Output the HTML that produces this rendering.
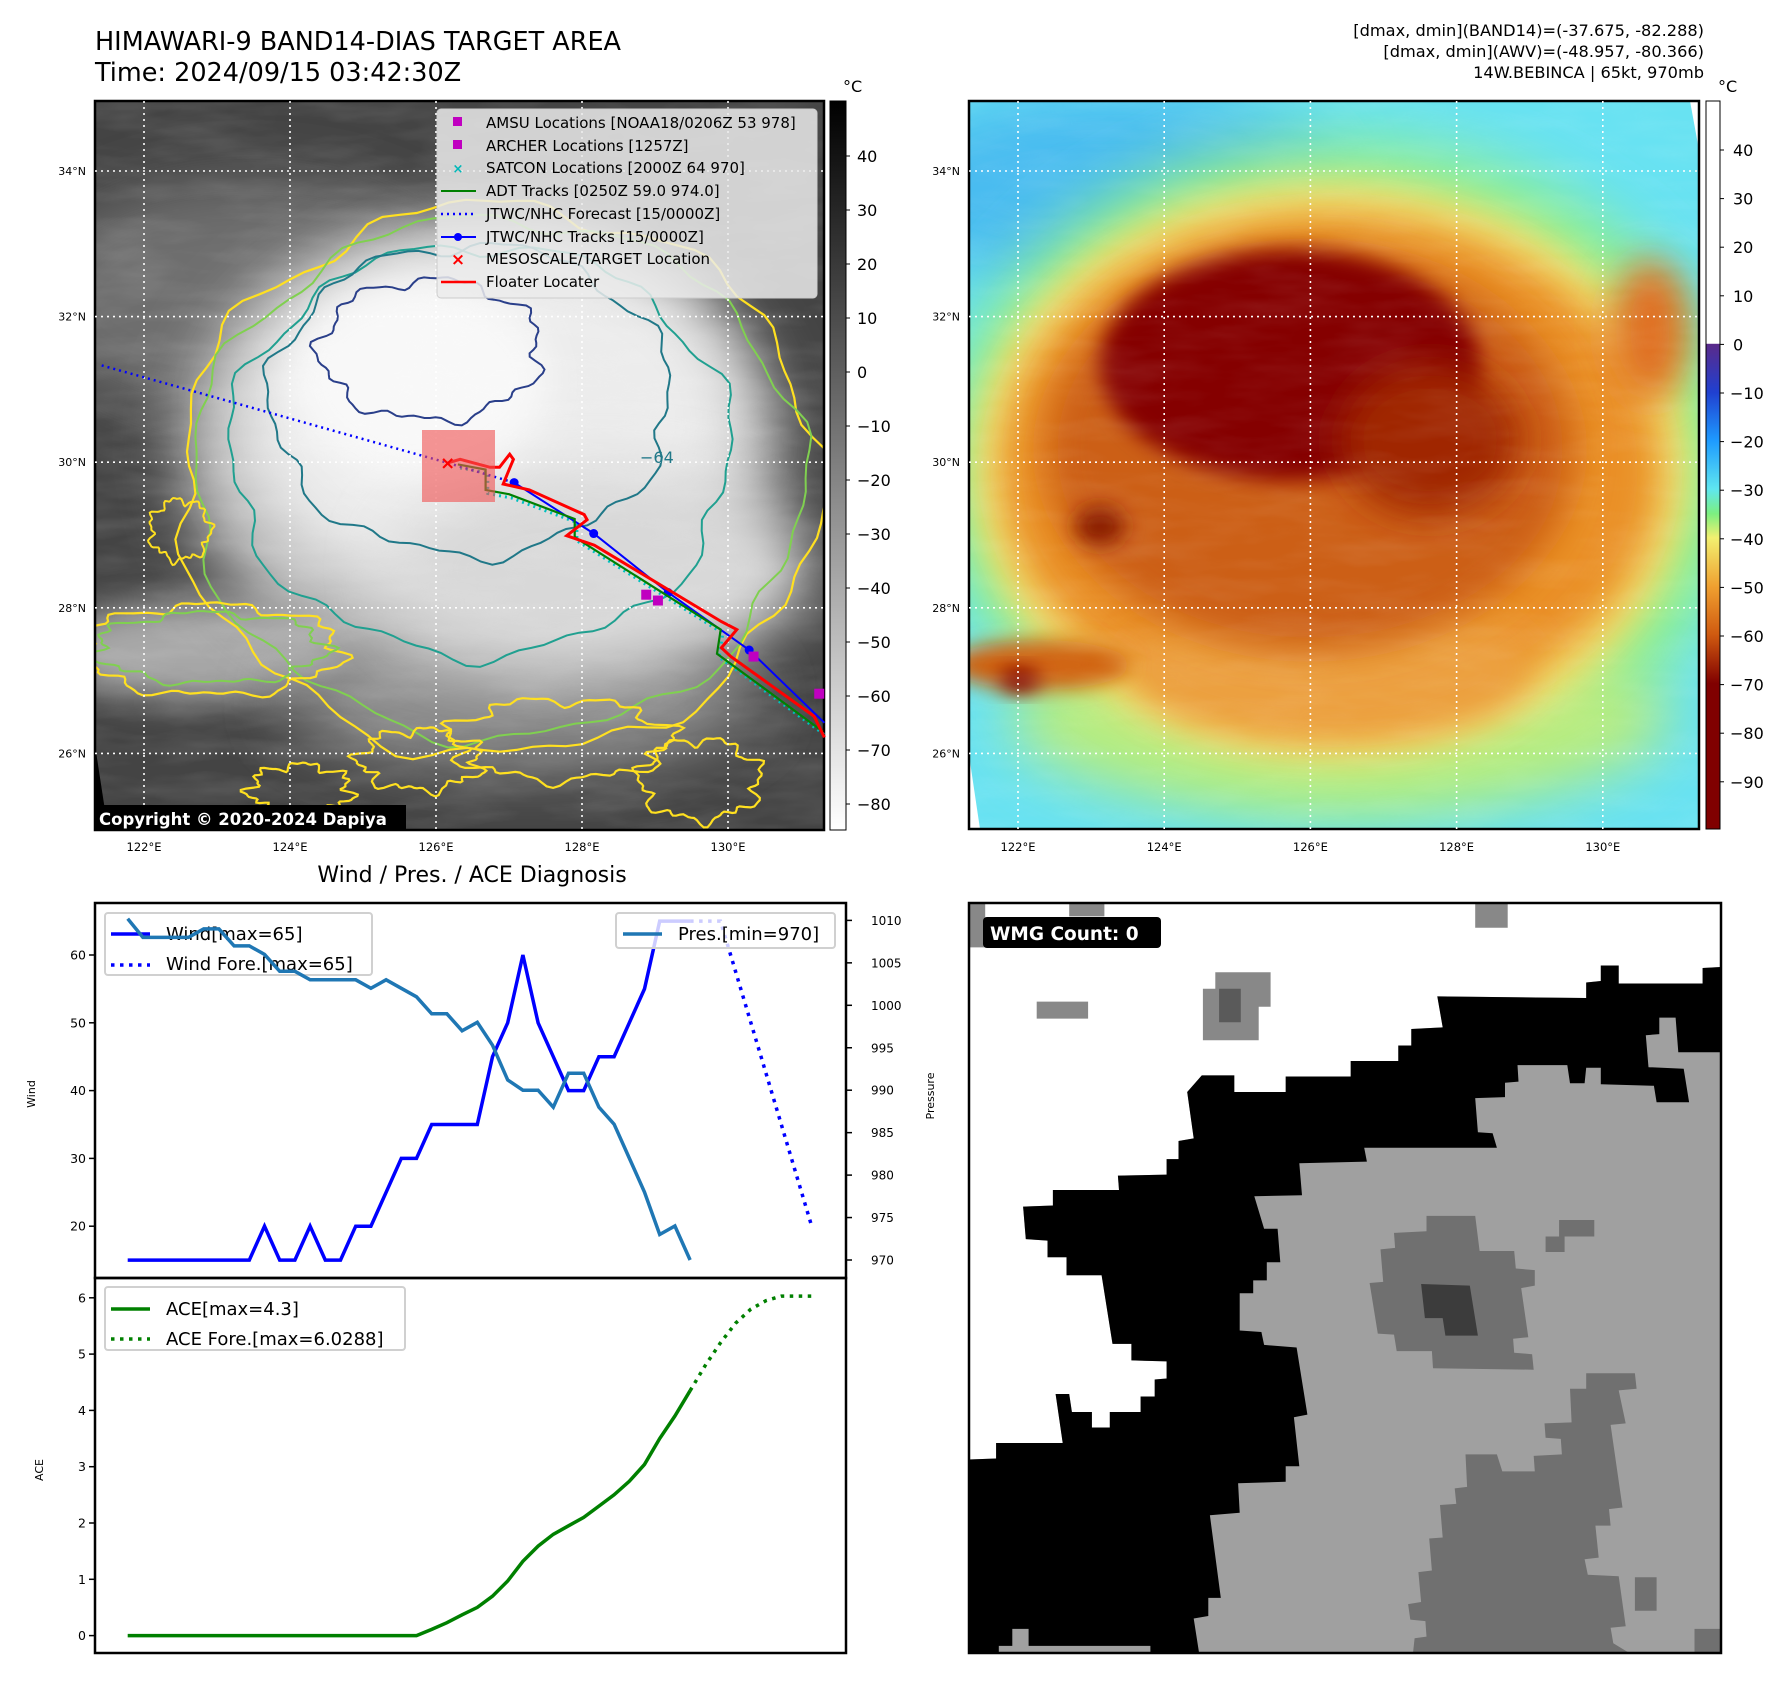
<!DOCTYPE html>
<html><head><meta charset="utf-8"><style>
html,body{margin:0;padding:0;background:#fff;}
body{width:1788px;height:1690px;position:relative;overflow:hidden;font-family:"DejaVu Sans","Liberation Sans",sans-serif;}
svg{position:absolute;left:0;top:0;}
</style></head><body>
<svg id="root" width="1788" height="1690" viewBox="0 0 1788 1690" xmlns="http://www.w3.org/2000/svg" font-family="DejaVu Sans, Liberation Sans, sans-serif">
<defs>
<filter id="b30" x="-50%" y="-50%" width="200%" height="200%"><feGaussianBlur stdDeviation="30"/></filter>
<filter id="b18" x="-50%" y="-50%" width="200%" height="200%"><feGaussianBlur stdDeviation="18"/></filter>
<filter id="b10" x="-50%" y="-50%" width="200%" height="200%"><feGaussianBlur stdDeviation="10"/></filter>
<filter id="tex" x="0" y="0" width="100%" height="100%"><feTurbulence type="fractalNoise" baseFrequency="0.012 0.05" numOctaves="3" seed="4"/><feColorMatrix type="matrix" values="0 0 0 0 1  0 0 0 0 1  0 0 0 0 1  0 0 0 0.55 -0.2"/></filter>
<clipPath id="clipL"><rect x="95" y="101" width="729" height="729"/></clipPath>
<clipPath id="clipR"><rect x="969" y="101" width="730" height="728"/></clipPath>
<clipPath id="clipW"><rect x="969" y="903" width="752" height="750"/></clipPath>
<linearGradient id="cbL" x1="0" y1="0" x2="0" y2="1"><stop offset="0" stop-color="#000"/><stop offset="1" stop-color="#fff"/></linearGradient>
<linearGradient id="cbR" x1="0" y1="0" x2="0" y2="1">
<stop offset="0" stop-color="#fff"/><stop offset="0.333" stop-color="#fff"/><stop offset="0.334" stop-color="#5a2a8a"/>
<stop offset="0.40" stop-color="#2040d0"/><stop offset="0.467" stop-color="#1e9bff"/><stop offset="0.533" stop-color="#5fe6f0"/>
<stop offset="0.567" stop-color="#7cf080"/><stop offset="0.60" stop-color="#f2f070"/><stop offset="0.667" stop-color="#f0a030"/>
<stop offset="0.733" stop-color="#d05a10"/><stop offset="0.80" stop-color="#800000"/><stop offset="1" stop-color="#800000"/></linearGradient>
</defs>

<!-- Titles -->
<text x="95" y="50" font-size="25.5" fill="#000">HIMAWARI-9 BAND14-DIAS TARGET AREA</text>
<text x="95" y="81" font-size="25.5" fill="#000">Time: 2024/09/15 03:42:30Z</text>
<g font-size="16.2" text-anchor="end" fill="#000">
<text x="1704" y="36">[dmax, dmin](BAND14)=(-37.675, -82.288)</text>
<text x="1704" y="57">[dmax, dmin](AWV)=(-48.957, -80.366)</text>
<text x="1704" y="78">14W.BEBINCA | 65kt, 970mb</text>
</g>

<!-- LEFT MAP -->
<g clip-path="url(#clipL)">
<rect x="95" y="101" width="729" height="729" fill="#444"/>
<ellipse cx="250" cy="300" rx="220" ry="120" fill="#6e6e6e" filter="url(#b30)"/>
<ellipse cx="200" cy="650" rx="150" ry="50" fill="#a8a8a8" filter="url(#b18)"/>
<ellipse cx="520" cy="700" rx="240" ry="70" fill="#8a8a8a" filter="url(#b30)"/>
<ellipse cx="480" cy="450" rx="300" ry="230" fill="#bdbdbd" filter="url(#b30)"/>
<ellipse cx="490" cy="420" rx="250" ry="180" fill="#ececec" filter="url(#b30)"/>
<ellipse cx="600" cy="570" rx="210" ry="100" fill="#d8d8d8" filter="url(#b30)"/>
<ellipse cx="420" cy="380" rx="130" ry="100" fill="#f8f8f8" filter="url(#b18)"/>
<rect x="95" y="101" width="729" height="729" filter="url(#tex)" opacity="0.35"/>
<polygon points="95,745 108,830 95,830" fill="#000"/>
<g id="contours" fill="none" stroke-width="2"></g>
</g>
<rect x="95" y="101" width="729" height="729" fill="none" stroke="#000" stroke-width="2.5"/>
<g id="gridL"></g>
<g id="tracks"></g>

<!-- left map legend -->
<g>
<rect x="437" y="109" width="380" height="189" rx="4" fill="rgba(235,235,235,0.85)" stroke="#ccc"/>
<g font-size="15" fill="#000">
<rect x="453" y="117" width="9" height="9" fill="#c000c0"/><text x="486" y="128">AMSU Locations [NOAA18/0206Z 53 978]</text>
<rect x="453" y="140" width="9" height="9" fill="#c000c0"/><text x="486" y="151">ARCHER Locations [1257Z]</text>
<text x="458" y="173" font-size="13" fill="#00b8b8" text-anchor="middle" font-weight="bold">×</text><text x="486" y="173">SATCON Locations [2000Z 64 970]</text>
<line x1="441" y1="191" x2="476" y2="191" stroke="#008000" stroke-width="2"/><text x="486" y="196">ADT Tracks [0250Z 59.0 974.0]</text>
<line x1="441" y1="214" x2="476" y2="214" stroke="#0000ff" stroke-width="2.5" stroke-dasharray="2,4"/><text x="486" y="219">JTWC/NHC Forecast [15/0000Z]</text>
<line x1="441" y1="237" x2="476" y2="237" stroke="#0000ff" stroke-width="2"/><circle cx="458" cy="237" r="4" fill="#0000ff"/><text x="486" y="242">JTWC/NHC Tracks [15/0000Z]</text>
<text x="458" y="265" font-size="17" fill="#ff0000" text-anchor="middle" font-weight="bold">×</text><text x="486" y="264">MESOSCALE/TARGET Location</text>
<line x1="441" y1="282" x2="476" y2="282" stroke="#ff0000" stroke-width="2.5"/><text x="486" y="287">Floater Locater</text>
</g></g>
<g>
<rect x="94" y="805" width="312" height="26" fill="#000"/>
<text x="99" y="825" font-size="16.5" font-weight="bold" fill="#fff">Copyright © 2020-2024 Dapiya</text>
</g>
<!-- left colorbar -->
<rect x="830" y="101" width="16" height="729" fill="url(#cbL)" stroke="#000" stroke-width="1"/>
<text x="843" y="92" font-size="16" fill="#000">°C</text>
<g id="cbLt" font-size="16" fill="#000"></g>

<!-- RIGHT MAP -->
<g clip-path="url(#clipR)">
<rect x="969" y="101" width="730" height="728" fill="#68e2f2"/>
<ellipse cx="1110" cy="190" rx="230" ry="100" fill="#48bcf0" filter="url(#b30)"/>
<ellipse cx="1340" cy="470" rx="400" ry="330" fill="#92f08a" filter="url(#b30)"/>
<ellipse cx="1340" cy="720" rx="330" ry="90" fill="#b8ec80" filter="url(#b30)"/>
<ellipse cx="1330" cy="470" rx="360" ry="290" fill="#f2e070" filter="url(#b18)"/>
<ellipse cx="1330" cy="470" rx="330" ry="255" fill="#ea9028" filter="url(#b18)"/>
<ellipse cx="1330" cy="670" rx="200" ry="70" fill="#eca040" filter="url(#b18)"/>
<ellipse cx="1310" cy="450" rx="265" ry="200" fill="#cc5e12" filter="url(#b18)"/>
<ellipse cx="1290" cy="365" rx="190" ry="115" fill="#850000" filter="url(#b10)"/>
<ellipse cx="1430" cy="440" rx="90" ry="75" fill="#a02800" filter="url(#b18)"/>
<ellipse cx="1650" cy="330" rx="40" ry="70" fill="#e07020" filter="url(#b18)"/>
<ellipse cx="1040" cy="665" rx="90" ry="25" fill="#d06010" filter="url(#b10)"/>
<ellipse cx="1020" cy="680" rx="20" ry="12" fill="#800000" filter="url(#b10)"/>
<ellipse cx="1100" cy="526" rx="25" ry="20" fill="#8a1a00" filter="url(#b10)"/>
<rect x="969" y="101" width="730" height="728" filter="url(#tex)" opacity="0.25"/>
<polygon points="969,755 980,829 969,829" fill="#fff"/>
<polygon points="1690,101 1699,101 1699,150" fill="#fff"/>
</g>
<rect x="969" y="101" width="730" height="728" fill="none" stroke="#000" stroke-width="2.5"/>
<g id="gridR"></g>
<rect x="1706" y="101" width="14" height="728" fill="url(#cbR)" stroke="#000" stroke-width="1"/>
<text x="1718" y="92" font-size="16" fill="#000">°C</text>
<g id="cbRt" font-size="16" fill="#000"></g>

<!-- CHARTS -->
<text x="472" y="882" font-size="22" text-anchor="middle" fill="#000">Wind / Pres. / ACE Diagnosis</text>
<g id="chart"></g>

<!-- WMG panel -->
<g clip-path="url(#clipW)" id="wmg"></g>
<rect x="969" y="903" width="752" height="750" fill="none" stroke="#000" stroke-width="2.5"/>
<g>
<rect x="983" y="917" width="178" height="31" rx="4" fill="#000"/>
<text x="990" y="940" font-size="18.5" font-weight="bold" fill="#fff">WMG Count: 0</text>
</g>
</svg>
<script>
const NS='http://www.w3.org/2000/svg';
function mk(tag,attrs,parent){const e=document.createElementNS(NS,tag);for(const k in attrs)e.setAttribute(k,attrs[k]);parent.appendChild(e);return e;}

// ---------- Chart data ----------
const windIdx=[0,1,2,3,4,5,6,7,8,9,10,11,12,13,14,15,16,17,18,19,20,21,22,23,24,25,26,27,28,29,30,31,32,33,34,35,36,37];
const windVals=[15,15,15,15,15,15,15,15,15,20,15,15,20,15,15,20,20,25,30,30,35,35,35,35,45,50,60,50,45,40,40,45,45,50,55,65,65,65];
const presVals=[1010.2,1008,1008,1008,1008,1009,1009,1007,1007,1006,1004,1004,1003,1003,1003,1003,1002,1003,1002,1001,999,999,997,998,995.3,991.2,990,990,988,992,992,988,986,982,978,973,974,970];
const aceVals=[0,0,0,0,0,0,0,0,0,0,0,0,0,0,0,0,0,0,0,0,0.11,0.23,0.37,0.5,0.7,0.97,1.32,1.59,1.8,1.95,2.1,2.3,2.5,2.74,3.04,3.5,3.9,4.35];
const windForeIdx=[37,39,45];
const windForeVals=[65,65,20];
const aceForeIdx=[37,38,39,40,41,42,43,44,45];
const aceForeVals=[4.35,4.8,5.2,5.55,5.8,5.95,6.03,6.03,6.03];
const windTicks=[20,30,40,50,60];
const presTicks=[970,975,980,985,990,995,1000,1005,1010];
const aceTicks=[0,1,2,3,4,5,6];

const xOf=i=>127.7+i*15.2;
const windY=v=>955+(60-v)*6.78;
const presY=p=>1260-(p-970)*8.49;
const aceY=a=>1635.6-a*56.3;

const chart=document.getElementById('chart');
function pts(idx,vals,f){return idx.map((i,k)=>xOf(i).toFixed(1)+','+f(vals[k]).toFixed(1)).join(' ');}

let g=mk('g',{},chart);


mk('rect',{x:95,y:903,width:751,height:375,fill:'#fff'},g);
let wl=mk('polyline',{points:pts(windIdx,windVals,windY),fill:'none',stroke:'#0000ff','stroke-width':3.5,'stroke-linejoin':'miter'},g);


let wf=mk('polyline',{points:pts(windForeIdx,windForeVals,windY),fill:'none',stroke:'#0000ff','stroke-width':3.5,'stroke-dasharray':'3.5,5.5'},g);


windTicks.forEach(t=>{const y=windY(t);mk('line',{x1:89,y1:y,x2:95,y2:y,stroke:'#000','stroke-width':1.5},g);
 const tx=mk('text',{x:86,y:y+4.5,'font-size':12.5,'text-anchor':'end',fill:'#000'},g);tx.textContent=t;
 
 });
let lg=mk('g',{},g);


mk('rect',{x:105,y:913,width:267,height:62,rx:3,fill:'rgba(255,255,255,0.8)',stroke:'#d0d0d0','stroke-width':2},lg);
mk('line',{x1:111,y1:934,x2:150,y2:934,stroke:'#0000ff','stroke-width':3.5},lg);
mk('line',{x1:111,y1:965,x2:150,y2:965,stroke:'#0000ff','stroke-width':3.5,'stroke-dasharray':'3.5,5.5'},lg);
let t1=mk('text',{x:166,y:940,'font-size':18,fill:'#000'},lg);t1.textContent='Wind[max=65]';
let t2=mk('text',{x:166,y:970,'font-size':18,fill:'#000'},lg);t2.textContent='Wind Fore.[max=65]';
let pl=mk('polyline',{points:pts(windIdx,presVals,presY),fill:'none',stroke:'#1f77b4','stroke-width':3.5},g);


presTicks.forEach(t=>{const y=presY(t);mk('line',{x1:846,y1:y,x2:852,y2:y,stroke:'#000','stroke-width':1.5},g);
 const tx=mk('text',{x:871,y:y+4.5,'font-size':12,fill:'#000'},g);tx.textContent=t;
 
 });
let pg=mk('g',{},g);


mk('rect',{x:616,y:913,width:219,height:35,rx:3,fill:'rgba(255,255,255,0.8)',stroke:'#d0d0d0','stroke-width':2},pg);
mk('line',{x1:623,y1:934,x2:662,y2:934,stroke:'#1f77b4','stroke-width':3.5},pg);
let t3=mk('text',{x:678,y:940,'font-size':18,fill:'#000'},pg);t3.textContent='Pres.[min=970]';
mk('rect',{x:95,y:903,width:751,height:375,fill:'none',stroke:'#000','stroke-width':2.5},g);
let yl=mk('text',{x:0,y:0,'font-size':11,fill:'#000','text-anchor':'middle',transform:'translate(35,1094) rotate(-90)'},g);yl.textContent='Wind';


let pyl=mk('text',{x:0,y:0,'font-size':11,fill:'#000','text-anchor':'middle',transform:'translate(934,1096) rotate(-90)'},g);pyl.textContent='Pressure';



let a=mk('g',{},chart);


let al=mk('polyline',{points:pts(windIdx,aceVals,aceY),fill:'none',stroke:'#008000','stroke-width':3.5},a);


let af=mk('polyline',{points:pts(aceForeIdx,aceForeVals,aceY),fill:'none',stroke:'#008000','stroke-width':3.5,'stroke-dasharray':'3.5,5.5'},a);


aceTicks.forEach(t=>{const y=aceY(t);mk('line',{x1:89,y1:y,x2:95,y2:y,stroke:'#000','stroke-width':1.5},a);
 const tx=mk('text',{x:86,y:y+4.5,'font-size':12.5,'text-anchor':'end',fill:'#000'},a);tx.textContent=t;
 
 });
let ag=mk('g',{},a);


mk('rect',{x:105,y:1287,width:300,height:63,rx:3,fill:'rgba(255,255,255,0.8)',stroke:'#d0d0d0','stroke-width':2},ag);
mk('line',{x1:111,y1:1309,x2:150,y2:1309,stroke:'#008000','stroke-width':3.5},ag);
mk('line',{x1:111,y1:1339,x2:150,y2:1339,stroke:'#008000','stroke-width':3.5,'stroke-dasharray':'3.5,5.5'},ag);
let t4=mk('text',{x:166,y:1315,'font-size':18,fill:'#000'},ag);t4.textContent='ACE[max=4.3]';
let t5=mk('text',{x:166,y:1345,'font-size':18,fill:'#000'},ag);t5.textContent='ACE Fore.[max=6.0288]';
mk('rect',{x:95,y:1278,width:751,height:375,fill:'none',stroke:'#000','stroke-width':2.5},a);
let ayl=mk('text',{x:0,y:0,'font-size':11,fill:'#000','text-anchor':'middle',transform:'translate(43,1470) rotate(-90)'},a);ayl.textContent='ACE';



// ---------- Map grids ----------
const lonTicks=[122,124,126,128,130];
const latTicks=[26,28,30,32,34];
function mapGrid(gid,x0,w,h){
 const gg=document.getElementById(gid);
 const lx=lon=>x0+49+(lon-122)*73*(w/729);
 const ly=lat=>171+(34-lat)*72.8;
 lonTicks.forEach(l=>{const x=lx(l);mk('line',{x1:x,y1:101,x2:x,y2:101+h,stroke:'#fff','stroke-width':1.6,'stroke-dasharray':'2,4'},gg);
  const t=mk('text',{x:x,y:851,'font-size':11.5,'text-anchor':'middle',fill:'#000'},gg);t.textContent=l+'°E';
  
  });
 latTicks.forEach(l=>{const y=ly(l);mk('line',{x1:x0,y1:y,x2:x0+w,y2:y,stroke:'#fff','stroke-width':1.6,'stroke-dasharray':'2,4'},gg);
  const t=mk('text',{x:x0-9,y:y+4,'font-size':11,'text-anchor':'end',fill:'#000'},gg);t.textContent=l+'°N';
  
  });
}
mapGrid('gridL',95,729,729);
mapGrid('gridR',969,730,728);

const cbLTicks=[40,30,20,10,0,-10,-20,-30,-40,-50,-60,-70,-80];
const cbRTicks=[40,30,20,10,0,-10,-20,-30,-40,-50,-60,-70,-80,-90];
const cbLy=v=>156+(40-v)*5.4;
const cbRy=v=>150+(40-v)*4.86;
cbLTicks.forEach(v=>{const y=cbLy(v);const c=document.getElementById('cbLt');mk('line',{x1:846,y1:y,x2:850,y2:y,stroke:'#000'},c);
 const t=mk('text',{x:857,y:y+6},c);t.textContent=(v<0?'\u2212'+(-v):v);});
cbRTicks.forEach(v=>{const y=cbRy(v);const c=document.getElementById('cbRt');mk('line',{x1:1720,y1:y,x2:1724,y2:y,stroke:'#000'},c);
 const t=mk('text',{x:v<0?1730:1733,y:y+6},c);t.textContent=(v<0?'\u2212'+(-v):v);});

// ---------- Contours (approximate shapes) ----------
const cont=document.getElementById('contours');
function blob(cx,cy,rx,ry,amp,seed,color,sw){
 let d='';for(let k=0;k<=120;k++){const th=k/120*Math.PI*2;
  const r=1+amp*(Math.sin(th*7+seed)*0.5+Math.sin(th*13+seed*2)*0.3+Math.sin(th*23+seed*3)*0.2);
  const x=cx+rx*r*Math.cos(th),y=cy+ry*r*Math.sin(th);d+=(k?'L':'M')+x.toFixed(1)+','+y.toFixed(1);}
 mk('path',{d:d+'Z',stroke:color,'stroke-width':sw||2,fill:'none'},cont);
}
blob(500,480,320,275,0.06,1,'#ffe020',2.2);
blob(498,478,305,260,0.05,2,'#80d050',2);
blob(480,450,250,205,0.06,3,'#20a090',2);
blob(470,400,200,155,0.07,4,'#207888',2);
blob(430,350,110,70,0.12,5,'#2a3f8a',2);
blob(210,650,130,45,0.15,6,'#ffe020',2.2);
blob(210,648,115,35,0.15,7,'#80d050',2);
blob(180,530,30,30,0.2,8,'#ffe020',2);
blob(560,740,110,40,0.2,9,'#ffe020',2.2);
blob(700,780,60,40,0.2,10,'#ffe020',2.2);
blob(420,760,60,30,0.25,11,'#ffe020',2.2);
blob(300,790,50,25,0.25,12,'#ffe020',2.2);

// ---------- Tracks ----------
const trk=document.getElementById('tracks');
const pxL=lon=>144+(lon-122)*73;
const pyL=lat=>171+(34-lat)*72.8;
const fcLon=[121.42,126.16,127.07];
const fcLat=[31.33,29.99,29.72];
const jtLon=[127.07,128.16,129.18,130.29,131.32];
const jtLat=[29.72,29.02,28.21,27.42,26.42];
const flLon=[126.16,126.33,126.74,126.87,127.01,127.06,126.92,127.28,128.03,128.07,127.79,128.17,129.91,130.12,129.91,130.04,131.18,131.32];
const flLat=[29.99,30.04,29.93,29.93,30.11,30.04,29.70,29.62,29.28,29.21,28.99,28.86,27.81,27.70,27.45,27.33,26.51,26.22];
const adLon=[126.3,126.68,126.68,127.0,127.9,127.9,129.9,129.85,131.3];
const adLat=[29.97,29.9,29.62,29.56,29.22,28.97,27.70,27.37,26.3];
const sqLon=[128.88,129.04,130.35,131.25];
const sqLat=[28.18,28.10,27.33,26.82];
const P=(lo,la)=>lo.map((v,k)=>pxL(v).toFixed(1)+','+pyL(la[k]).toFixed(1)).join(' ');
mk('polyline',{points:P(adLon.map(v=>v+0.03),adLat.map(v=>v-0.05)),fill:'none',stroke:'#00c0c0','stroke-width':3,'stroke-dasharray':'2,4'},trk);
mk('polyline',{points:P(fcLon,fcLat),fill:'none',stroke:'#0000ff','stroke-width':2.5,'stroke-dasharray':'2,4'},trk);
mk('polyline',{points:P(jtLon,jtLat),fill:'none',stroke:'#0000ff','stroke-width':2},trk);
jtLon.slice(0,4).forEach((v,k)=>mk('circle',{cx:pxL(v),cy:pyL(jtLat[k]),r:4.5,fill:'#0000ff'},trk));
mk('polyline',{points:P(adLon,adLat),fill:'none',stroke:'#008000','stroke-width':2.2},trk);
mk('polyline',{points:P(flLon,flLat),fill:'none',stroke:'#ff0000','stroke-width':3},trk);
sqLon.forEach((v,k)=>mk('rect',{x:pxL(v)-5,y:pyL(sqLat[k])-5,width:10,height:10,fill:'#c000c0'},trk));
mk('rect',{x:422,y:430,width:73,height:72,fill:'rgba(240,80,80,0.6)'},trk);
let rx=mk('text',{x:pxL(126.16),y:pyL(29.99)+6,'font-size':18,'font-weight':'bold','text-anchor':'middle',fill:'#ff0000'},trk);rx.textContent='×';
let lb=mk('text',{x:640,y:463,'font-size':16,fill:'#207888'},trk);lb.textContent='−64';

// ---------- WMG panel ----------
const W=document.getElementById('wmg');
const wx=c=>969+(c-55)/1.847, wy=c=>903+(c-44)/1.937;
function poly(arr,fill){let s='';for(let k=0;k<arr.length;k+=2)s+=wx(arr[k]).toFixed(1)+','+wy(arr[k+1]).toFixed(1)+' ';mk('polygon',{points:s,fill:fill},W);}
function box(x1,y1,x2,y2,fill){poly([x1,y1,x2,y1,x2,y2,x1,y2],fill);}
mk('rect',{x:969,y:903,width:752,height:750,fill:'#a0a0a0'},W);
const topB=[1444,168,1410,170,1410,200,1255,200,1255,165,1222,165,1222,195,1195,198,1195,228,920,225,930,285,872,288,872,320,848,320,848,350,760,350,760,380,640,380,640,410,545,410,545,378,485,378,458,410,470,500,442,505,442,540,420,540,420,570,330,572,332,600,210,600,210,630,155,632,160,695,200,698,200,730,235,730,235,765,300,765,320,898,355,898,355,930,420,932,420,965,398,967,398,1000,372,1000,372,1030,315,1030,315,1060,282,1060,282,1030,245,1030,240,995,215,995,228,1090,105,1090,105,1120,55,1122];
poly([55,44,1444,44].concat(topB),'#ffffff');
const grayB=[480,1497,470,1430,497,1425,497,1390,520,1390,500,1230,555,1225,552,1168,640,1165,640,1135,665,1135,655,1040,680,1035,660,905,600,900,595,875,555,872,555,800,580,800,580,775,605,775,605,740,630,740,625,675,600,675,582,612,670,610,665,548,790,545,785,518,1030,518,1022,490,995,488,990,422,1045,420,1045,392,1070,390,1068,358,1160,358,1165,393,1192,393,1195,363,1222,363,1222,395,1320,398,1325,430,1385,430,1375,365,1310,362,1305,300,1330,298,1330,266,1360,266,1365,333,1444,333];
poly(topB.concat([55,1497]).concat(grayB),'#000000');
poly([900,650,990,650,998,718,1062,718,1065,752,1100,755,1100,785,1075,790,1088,885,1060,888,1062,915,1095,918,1098,948,912,945,910,912,845,912,840,880,810,878,795,780,820,778,815,715,842,712,840,683,900,680],'#707070');
poly([890,782,980,785,995,882,935,882,930,848,897,848],'#3c3c3c');
poly([1195,955,1285,955,1288,985,1255,988,1268,1052,1240,1055,1262,1215,1237,1218,1240,1250,1212,1250,1218,1312,1192,1315,1198,1345,1255,1348,1268,1445,1240,1448,1245,1478,1275,1497,875,1497,878,1468,900,1465,898,1435,870,1432,866,1402,890,1398,885,1340,910,1337,905,1275,930,1273,925,1210,955,1208,952,1178,975,1175,972,1112,1030,1112,1040,1145,1100,1145,1098,1115,1150,1112,1148,1082,1120,1080,1118,1052,1168,1050,1165,985,1195,985],'#707070');
box(1285,1350,1325,1415,'#707070');box(1395,1450,1444,1497,'#707070');
box(1145,658,1210,690,'#707070');box(1120,690,1155,720,'#707070');
box(510,178,612,245,'#888888');box(487,210,590,310,'#888888');box(517,210,557,275,'#5a5a5a');
box(180,235,275,268,'#888888');box(240,44,305,70,'#888888');box(990,44,1050,92,'#888888');
box(55,44,85,130,'#888888');box(135,1450,165,1485,'#a0a0a0');box(110,1483,390,1497,'#a0a0a0');
</script>
</body></html>
